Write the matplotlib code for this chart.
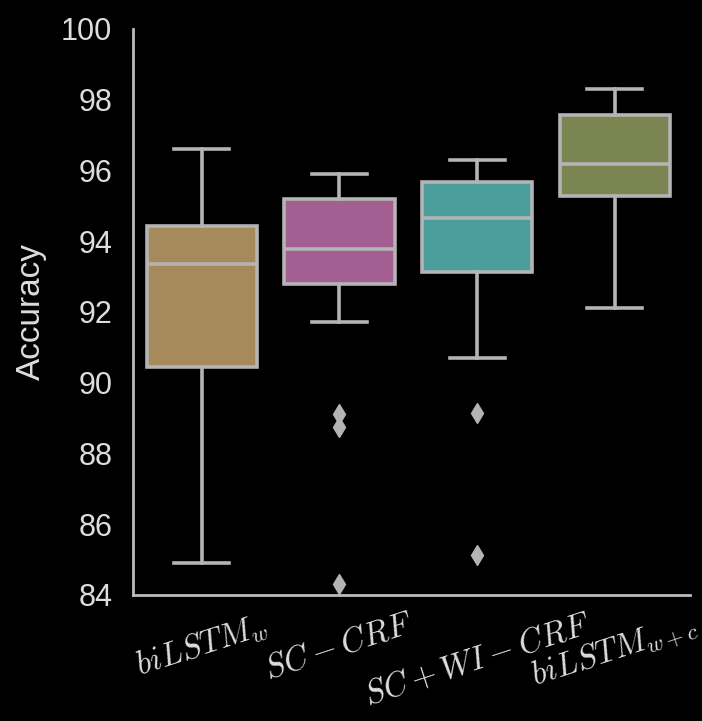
import numpy as np
import matplotlib
matplotlib.use('Agg')
import matplotlib.pyplot as plt

# box statistics
labels = [r'$biLSTM_w$', r'$SC-CRF$', r'$SC+WI-CRF$', r'$biLSTM_{w+c}$']
whislo = [84.9, 91.7, 90.7, 92.1]
q1 = [90.45, 92.78, 93.13, 95.28]
med = [93.35, 93.79, 94.64, 96.18]
q3 = [94.43, 95.19, 95.66, 97.56]
whishi = [96.6, 95.91, 96.29, 98.3]
fliers = [[], [89.10, 88.74, 84.31], [89.14, 85.13], []]
colors = ['#A68A5C', '#A35F92', '#4C9E9C', '#7A8552']

plt.rcParams['font.family'] = ['Liberation Sans', 'DejaVu Sans']
plt.rcParams['mathtext.fontset'] = 'cm'

fig = plt.figure(figsize=(7.02, 7.21), dpi=100, facecolor='black')
ax = fig.add_axes([0.1895, 0.175, 0.794, 0.785])
ax.set_facecolor('black')

stats = []
for i in range(len(labels)):
    stats.append(dict(whislo=whislo[i], q1=q1[i], med=med[i], q3=q3[i],
                      whishi=whishi[i], fliers=np.array(fliers[i])))

lc = '#B4B4B4'
lw = 2.6
bp = ax.bxp(stats, positions=range(len(labels)), widths=0.8, capwidths=0.4,
            patch_artist=True,
            boxprops=dict(edgecolor=lc, linewidth=lw),
            medianprops=dict(color=lc, linewidth=lw),
            whiskerprops=dict(color=lc, linewidth=lw),
            capprops=dict(color=lc, linewidth=lw),
            flierprops=dict(marker='d', markerfacecolor=lc, markeredgecolor=lc,
                            markersize=10))
for patch, c in zip(bp['boxes'], colors):
    patch.set_facecolor(c)

ax.set_xlim(-0.5, 3.55)
ax.set_ylim(84, 100)
ax.set_yticks(np.arange(84, 101, 2))
ax.set_xticks(range(len(labels)))
ax.set_xticklabels(labels, rotation=18, ha='center')

for s in ['top', 'right']:
    ax.spines[s].set_visible(False)
for s in ['left', 'bottom']:
    ax.spines[s].set_color('#BBBBBB')
    ax.spines[s].set_linewidth(2)

ax.tick_params(axis='y', length=0, pad=15, labelsize=22, labelcolor='#DDDDDD')
ax.tick_params(axis='x', length=0, pad=10, labelsize=23.5, labelcolor='#DDDDDD')
ax.set_ylabel('Accuracy', fontsize=24, color='#DDDDDD', labelpad=10)

plt.savefig('out.png', facecolor='black')
